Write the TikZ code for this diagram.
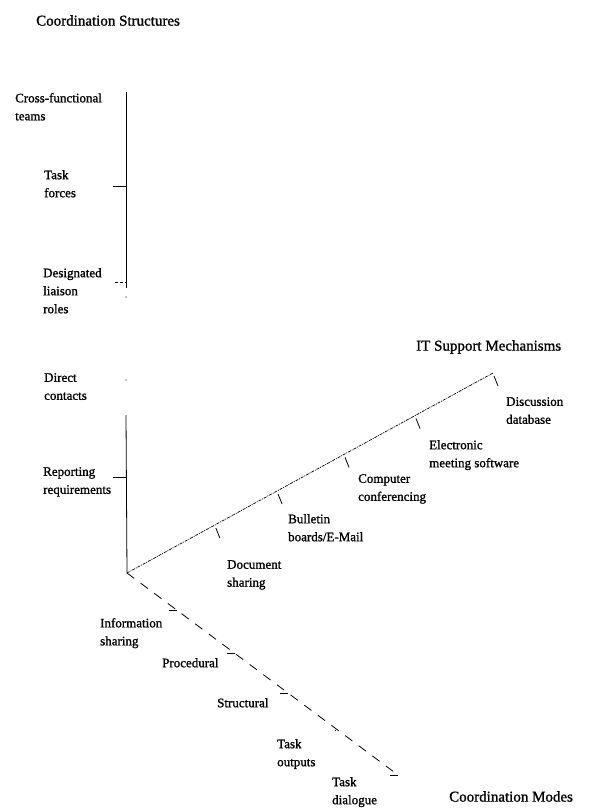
\documentclass[tikz,border=0pt]{standalone}
\usepackage{fontspec}
\setmainfont{Liberation Serif}[FakeBold=1.2]
\usetikzlibrary{calc}

\begin{document}
\begin{tikzpicture}[x=1pt,y=-1pt,
  lbl/.style={anchor=north west,inner sep=0pt,align=left,
              font=\fontsize{13}{18}\selectfont},
  ttl/.style={anchor=north west,inner sep=0pt,font=\fontsize{15}{18}\selectfont},
  struct/.style={line width=0.8pt},
  itaxis/.style={line width=0.7pt,dash pattern=on 3pt off 1pt on 1pt off 1pt},
  modeaxis/.style={line width=0.8pt,dash pattern=on 9pt off 8pt},
  tk/.style={line width=0.8pt}]

  \useasboundingbox (0,0) rectangle (592,809);

  \coordinate (orig) at (127,573);
  \coordinate (vtop) at (126,92);
  \coordinate (vbrk) at (126,288);
  \coordinate (vres) at (126,415);
  \coordinate (itend) at (493,373);
  \coordinate (modend) at (398,775);

  % titles
  \node[ttl] (cstruct) at (36,15)  {Coordination Structures};
  \node[ttl] (itsup)   at (416,340){IT Support Mechanisms};
  \node[ttl] (cmodes)  at (449,791){Coordination Modes};

  % coordination structures
  \node[lbl] (cross)  at (15,93)  {Cross-functional\\teams};
  \node[lbl] (force)  at (44,170) {Task\\forces};
  \node[lbl] (liais)  at (43,268) {Designated\\liaison\\roles};
  \node[lbl] (direct) at (44,373) {Direct\\contacts};
  \node[lbl] (report) at (43,467) {Reporting\\requirements};

  \draw[struct] (vtop) -- (vbrk);
  \draw[struct] (vres) -- (orig);
  \fill (126,297) circle (0.6pt);
  \fill (126,380) circle (0.6pt);
  \draw[tk] (113,186) -- (126,186);
  \draw[tk,densely dashed] (115,282) -- (126,282);
  \draw[tk] (113,477) -- (126,477);

  % IT support mechanisms
  \node[lbl] (docsh) at (227,560) {Document\\sharing};
  \node[lbl] (bull)  at (288,514) {Bulletin\\boards/E-Mail};
  \node[lbl] (conf)  at (358,474) {Computer\\conferencing};
  \node[lbl] (emeet) at (429,440) {Electronic\\meeting software};
  \node[lbl] (disc)  at (506,397) {Discussion\\database};

  \draw[itaxis] (orig) -- (itend);
  \foreach \t/\n in {0.24/a,0.41/b,0.593/c,0.787/d,1/e}
    \coordinate (it\n) at ($(orig)!\t!(itend)$);
  \foreach \n in {a,b,c,d,e}
    \draw[tk] ($(it\n)+(1,3)$) -- ++(4,10);

  % coordination modes
  \node[lbl] (info)  at (100,618) {Information\\sharing};
  \node[lbl] (proc)  at (162,658) {Procedural};
  \node[lbl] (strc)  at (217,698) {Structural};
  \node[lbl] (tout)  at (277,739) {Task\\outputs};
  \node[lbl] (tdia)  at (332,777) {Task\\dialogue};

  \draw[modeaxis] (orig) -- (modend);
  \foreach \t/\n in {0.185/a,0.4/b,0.594/c,0.78/d,1/e}
    \coordinate (md\n) at ($(orig)!\t!(modend)$);
  \foreach \n in {a,b,c,e}
    \draw[tk] (md\n) -- ++(-8,0);
  \fill ($(mdd)+(-3,0)$) circle (0.6pt);

\end{tikzpicture}
\end{document}
